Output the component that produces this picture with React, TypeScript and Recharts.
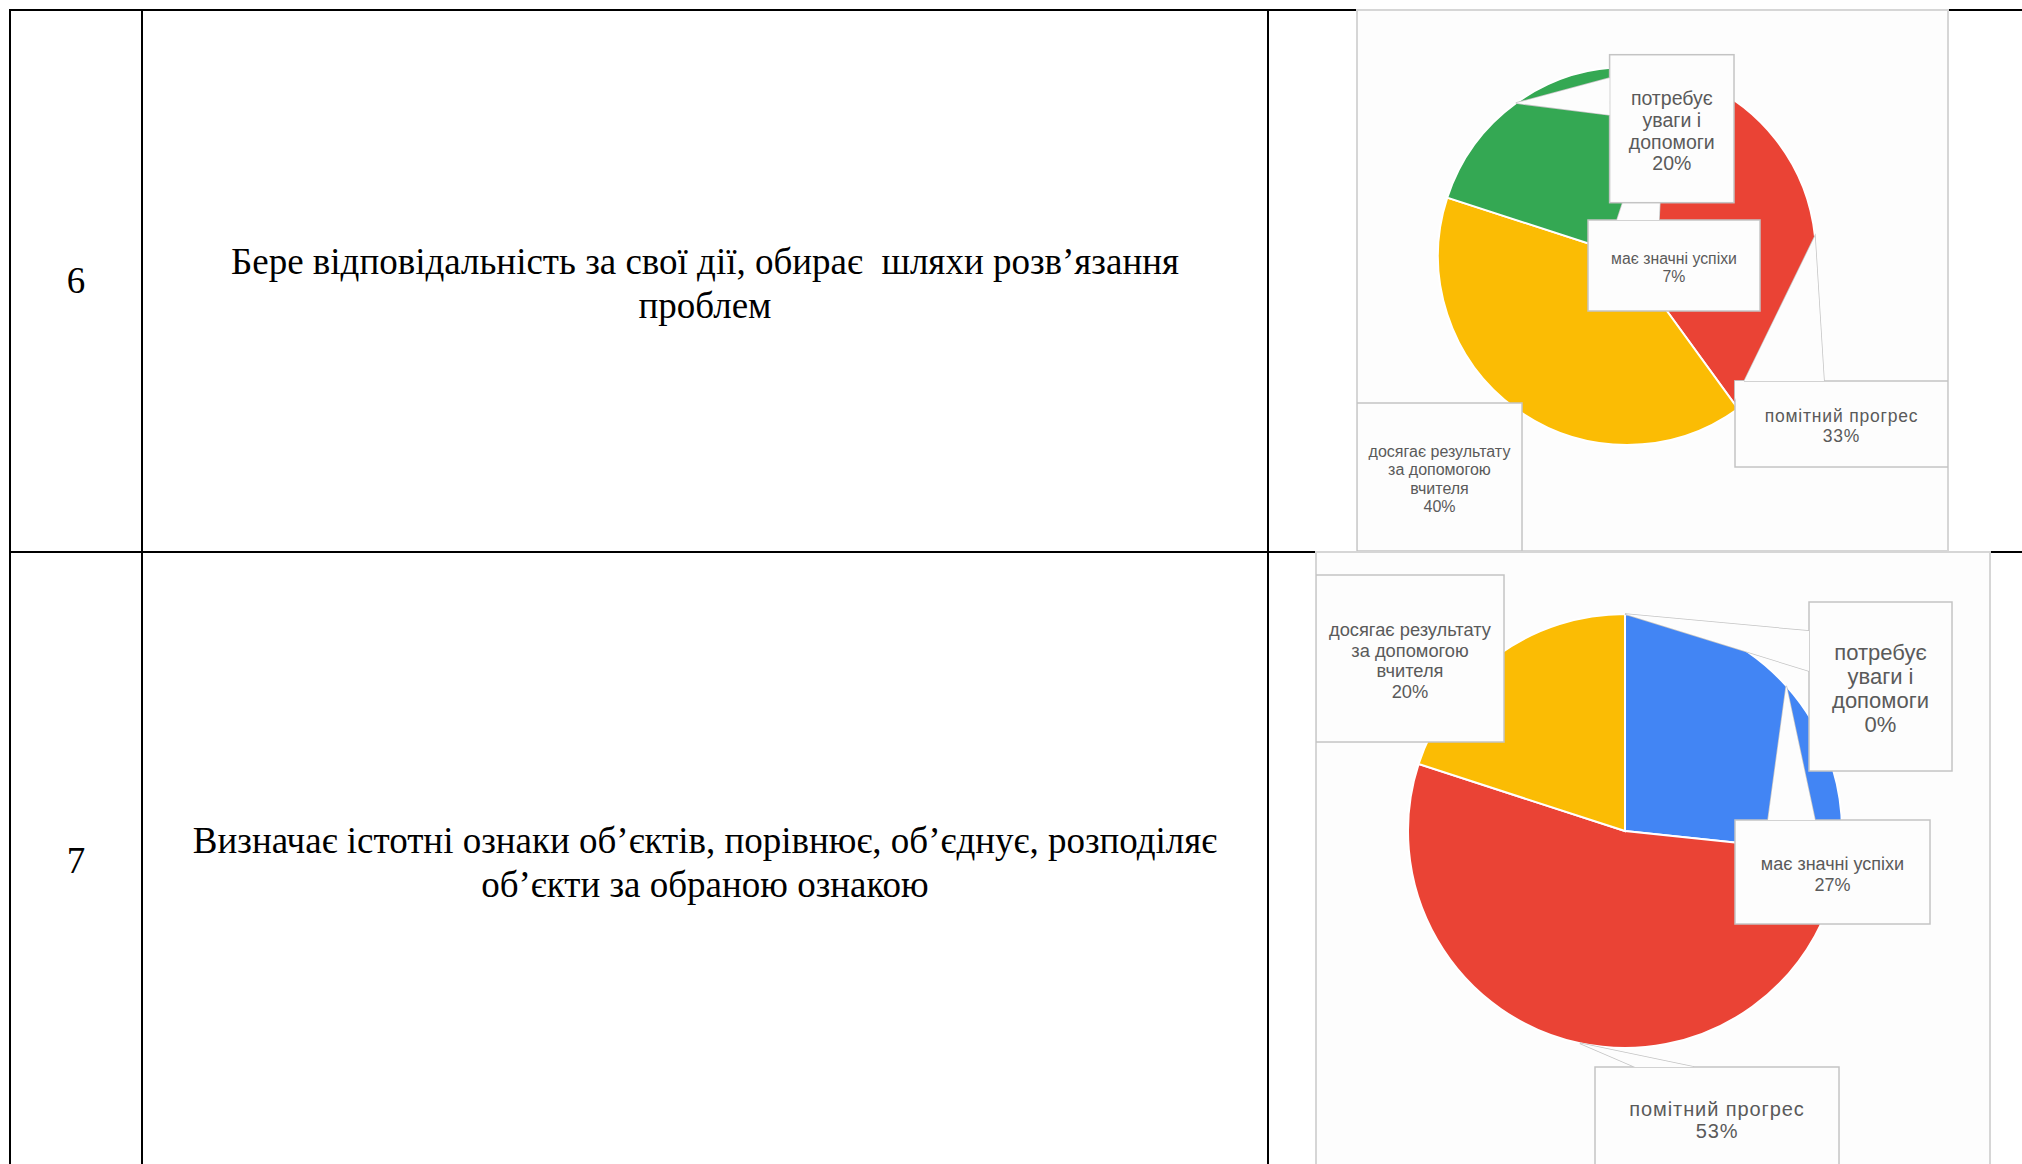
import React from 'react';
import { PieChart, Pie, Cell } from 'recharts';

// categories, in the order the pies are drawn (clockwise from 12 o'clock)
const categories = [
  'має значні успіхи',
  'помітний прогрес',
  'досягає результату\nза допомогою\nвчителя',
  'потребує\nуваги і\nдопомоги',
];
const sliceColors = ['#4285F4', '#EA4335', '#FBBC04', '#34A853'];

// number of pupils per category (15 in total)
const row6Counts = [1, 5, 6, 3];
const row7Counts = [4, 8, 3, 0];

const rowNumbers = ['6', '7'];
const rowTexts = [
  'Бере відповідальність за свої дії, обирає  шляхи розв’язання\nпроблем',
  'Визначає істотні ознаки об’єктів, порівнює, об’єднує, розподіляє\nоб’єкти за обраною ознакою',
];

type Pt = [number, number];
type Callout = {
  box: [number, number, number, number];
  base: Pt[] | null;
  fontSize: number;
  lineHeight: number;
  spacing?: number;
};

// label boxes of the Google-style callouts, in chart pixels
const row6Callouts: Callout[] = [
  { box: [231, 210, 172, 91], base: [[260, 210], [302, 210]], fontSize: 15.8, lineHeight: 18 },
  { box: [378, 371, 213, 86], base: [[467, 371], [378, 371], [378, 390]], fontSize: 17.5, lineHeight: 20, spacing: 0.8 },
  { box: [0, 393, 165, 148], base: null, fontSize: 16, lineHeight: 18.2 },
  { box: [252.6, 44.7, 124.4, 148], base: [[252.6, 68], [252.6, 105]], fontSize: 19.5, lineHeight: 21.6 },
];
const row7Callouts: Callout[] = [
  { box: [419, 268, 195, 104], base: [[452, 268], [499, 268]], fontSize: 18, lineHeight: 21 },
  { box: [279, 515, 244, 102], base: [[319, 515], [378, 515]], fontSize: 20, lineHeight: 22, spacing: 0.9 },
  { box: [0, 23, 188, 167], base: null, fontSize: 18.3, lineHeight: 20.6 },
  { box: [493, 50, 143, 169], base: [[493, 79], [493, 119]], fontSize: 22, lineHeight: 24.2 },
];

const RADIAN = Math.PI / 180;
const BOX_STROKE = '#c4c4c4';
const BOX_FILL = '#fdfdfd';

const makeLabel = (callouts: Callout[]) => (props: any) => {
  const { cx, cy, midAngle, outerRadius, percent, index } = props;
  const c = callouts[index];
  const name: string = props.payload?.name ?? props.name ?? '';
  const tipX = cx + outerRadius * Math.cos(-midAngle * RADIAN);
  const tipY = cy + outerRadius * Math.sin(-midAngle * RADIAN);
  const [bx, by, bw, bh] = c.box;
  const lines = [...name.split('\n'), `${Math.round(percent * 100)}%`];
  const wedge = c.base ? [[tipX, tipY], ...c.base].map((p) => p.join(',')).join(' ') : null;
  const firstY = by + bh / 2 - ((lines.length - 1) * c.lineHeight) / 2 + 2;
  return (
    <g>
      {wedge && <polygon points={wedge} fill={BOX_FILL} stroke={BOX_STROKE} strokeWidth={1.5} />}
      <rect x={bx} y={by} width={bw} height={bh} fill={BOX_FILL} stroke={BOX_STROKE} strokeWidth={1.5} />
      {wedge && <polygon points={wedge} fill={BOX_FILL} stroke="none" />}
      <text
        x={bx + bw / 2}
        textAnchor="middle"
        fill="#5a5a5a"
        fontSize={c.fontSize}
        fontFamily="'Liberation Sans', Arial, sans-serif"
        letterSpacing={c.spacing ?? 0}
      >
        {lines.map((l, i) => (
          <tspan key={i} x={bx + bw / 2} y={firstY + i * c.lineHeight} dominantBaseline="central">
            {l}
          </tspan>
        ))}
      </text>
    </g>
  );
};

const SurveyPie = ({ counts, callouts, width, height, cx, cy, r }: any) => {
  const data = categories.map((name, i) => ({ name, value: counts[i] }));
  return (
    <PieChart width={width} height={height} margin={{ top: 0, right: 0, bottom: 0, left: 0 }}>
      <Pie
        data={data}
        dataKey="value"
        nameKey="name"
        cx={cx}
        cy={cy}
        outerRadius={r}
        startAngle={90}
        endAngle={-270}
        stroke="#ffffff"
        strokeWidth={2}
        labelLine={false}
        label={makeLabel(callouts)}
        isAnimationActive={false}
      >
        {data.map((_, i) => (
          <Cell key={`cell-${i}`} fill={sliceColors[i]} />
        ))}
      </Pie>
    </PieChart>
  );
};

const line = (left: number, top: number, width: number, height: number) => (
  <div style={{ position: 'absolute', left, top, width, height, background: '#000' }} />
);

const cellText = (left: number, top: number, width: number, height: number, text: string) => (
  <div
    style={{
      position: 'absolute',
      left,
      top,
      width,
      height,
      display: 'flex',
      alignItems: 'center',
      justifyContent: 'center',
      textAlign: 'center',
      whiteSpace: 'pre',
      fontFamily: "'Liberation Serif', 'Times New Roman', serif",
      fontSize: 37,
      lineHeight: '44px',
      color: '#000',
    }}
  >
    {text}
  </div>
);

const frame = (left: number, top: number, width: number, height: number, child: React.ReactNode) => (
  <div style={{ position: 'absolute', left, top, width, height }}>
    <div
      style={{
        position: 'absolute',
        left: -1,
        top: -1,
        width: width + 2,
        height: height + 2,
        boxSizing: 'border-box',
        border: '2px solid #d6d6d6',
        background: '#fdfdfd',
      }}
    />
    <div style={{ position: 'absolute', left: 0, top: 0 }}>{child}</div>
  </div>
);

export default function App() {
  return (
    <div
      style={{
        position: 'absolute',
        left: 0,
        top: 0,
        width: 2022,
        height: 1164,
        overflow: 'hidden',
        background: '#fff',
      }}
    >
      {line(9, 9, 2013, 2)}
      {line(9, 9, 2, 1160)}
      {line(141, 9, 2, 1160)}
      {line(1267, 9, 2, 1160)}
      {line(9, 551, 2013, 2)}

      {cellText(11, 11, 130, 540, rowNumbers[0])}
      {cellText(143, 14, 1124, 540, rowTexts[0])}
      {cellText(11, 553, 130, 616, rowNumbers[1])}
      {cellText(143, 555, 1124, 616, rowTexts[1])}

      {frame(
        1357,
        10,
        591,
        541,
        <SurveyPie counts={row6Counts} callouts={row6Callouts} width={591} height={541} cx={270} cy={246} r={189} />
      )}
      {frame(
        1316,
        552,
        674,
        640,
        <SurveyPie counts={row7Counts} callouts={row7Callouts} width={674} height={640} cx={309} cy={279} r={217} />
      )}
    </div>
  );
}
